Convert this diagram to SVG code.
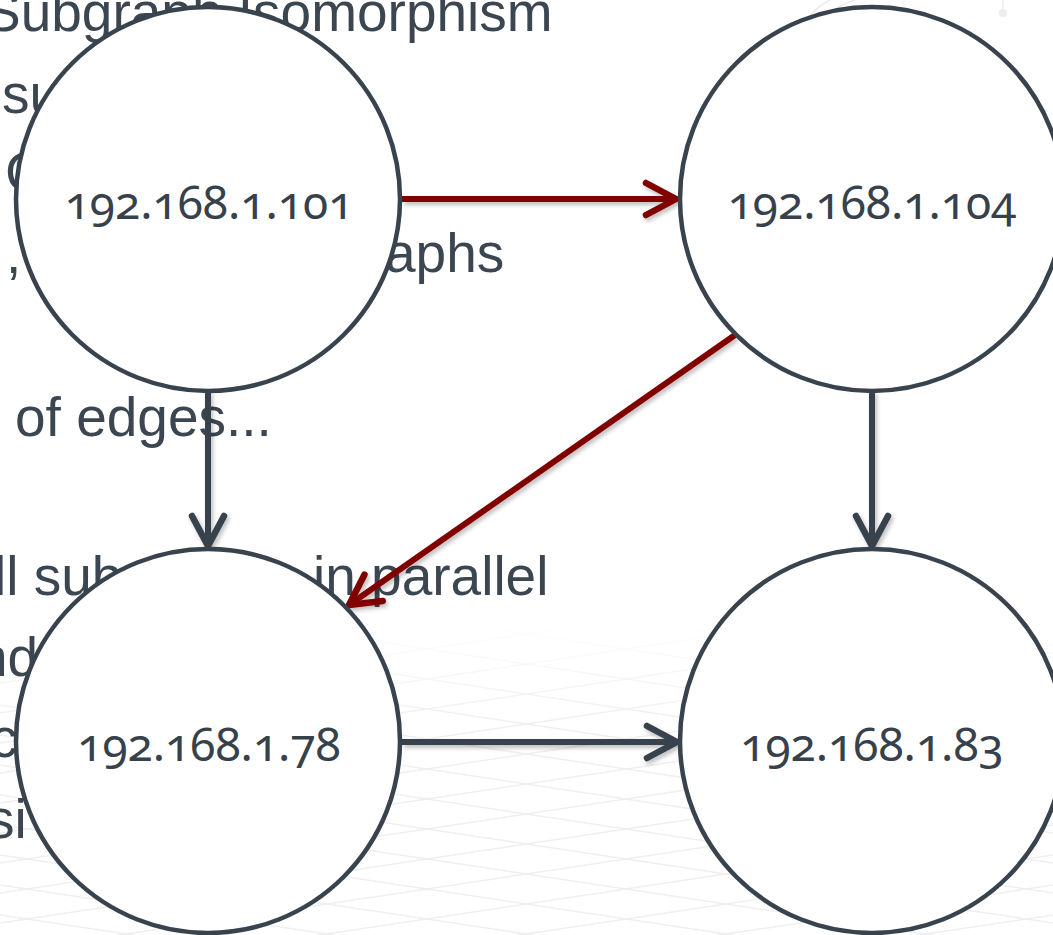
<svg xmlns="http://www.w3.org/2000/svg" width="1053" height="935" viewBox="0 0 1053 935">
  <defs>
    <style>
      .bg-text { font-family: "Liberation Sans", Arial, sans-serif; font-size: 55px; fill: #3b4650; }
      .node-circle { fill: #ffffff; stroke: #38434d; stroke-width: 4.5; }
      .node-label { font-family: "Noto Sans", "Open Sans", sans-serif; font-size: 46px; fill: #37414b; text-anchor: middle; font-variant-numeric: oldstyle-nums; font-feature-settings: "onum" 1; }
      .edge-dark { stroke: #38434d; stroke-width: 6; fill: none; }
      .edge-red { stroke: #800000; stroke-width: 6; fill: none; }
      .grid line { stroke: #efefef; stroke-width: 1.5; }
    </style>
    <marker id="arrow-dark" markerUnits="userSpaceOnUse" markerWidth="50" markerHeight="50" viewBox="-40 -25 50 50" refX="0" refY="0" orient="auto">
      <path d="M -30 -16 L 0 0 L -30 16" fill="none" stroke="#38434d" stroke-width="6.5" stroke-linecap="round" stroke-linejoin="round"/>
    </marker>
    <marker id="arrow-red" markerUnits="userSpaceOnUse" markerWidth="50" markerHeight="50" viewBox="-40 -25 50 50" refX="0" refY="0" orient="auto">
      <path d="M -30 -16 L 0 0 L -30 16" fill="none" stroke="#800000" stroke-width="6.5" stroke-linecap="round" stroke-linejoin="round"/>
    </marker>
    <filter id="shadow" x="-10%" y="-10%" width="120%" height="130%">
      <feDropShadow dx="2" dy="3" stdDeviation="2" flood-color="#000000" flood-opacity="0.25"/>
    </filter>
    <linearGradient id="fade" x1="0" y1="0" x2="0" y2="1">
      <stop offset="0" stop-color="#ffffff" stop-opacity="0"/>
      <stop offset="0.35" stop-color="#ffffff" stop-opacity="1"/>
      <stop offset="1" stop-color="#ffffff" stop-opacity="1"/>
    </linearGradient>
    <mask id="gridmask">
      <rect x="0" y="620" width="1053" height="315" fill="url(#fade)"/>
    </mask>
  </defs>

  <rect width="1053" height="935" fill="#ffffff"/>

  <!-- faint background floor grid -->
  <g class="grid" mask="url(#gridmask)">
    <line x1="-100" y1="600" x2="1153" y2="788"/>
    <line x1="-100" y1="630" x2="1153" y2="818"/>
    <line x1="-100" y1="660" x2="1153" y2="848"/>
    <line x1="-100" y1="690" x2="1153" y2="878"/>
    <line x1="-100" y1="720" x2="1153" y2="908"/>
    <line x1="-100" y1="750" x2="1153" y2="938"/>
    <line x1="-100" y1="780" x2="1153" y2="968"/>
    <line x1="-100" y1="810" x2="1153" y2="998"/>
    <line x1="-100" y1="840" x2="1153" y2="1028"/>
    <line x1="-100" y1="870" x2="1153" y2="1058"/>
    <line x1="-100" y1="900" x2="1153" y2="1088"/>
    <line x1="-100" y1="570" x2="1153" y2="758"/>
    <line x1="-100" y1="540" x2="1153" y2="728"/>
    <line x1="-100" y1="510" x2="1153" y2="698"/>
    <line x1="-100" y1="480" x2="1153" y2="668"/>
    <line x1="-100" y1="788" x2="1153" y2="600"/>
    <line x1="-100" y1="818" x2="1153" y2="630"/>
    <line x1="-100" y1="848" x2="1153" y2="660"/>
    <line x1="-100" y1="878" x2="1153" y2="690"/>
    <line x1="-100" y1="908" x2="1153" y2="720"/>
    <line x1="-100" y1="938" x2="1153" y2="750"/>
    <line x1="-100" y1="968" x2="1153" y2="780"/>
    <line x1="-100" y1="998" x2="1153" y2="810"/>
    <line x1="-100" y1="1028" x2="1153" y2="840"/>
    <line x1="-100" y1="1058" x2="1153" y2="870"/>
    <line x1="-100" y1="1088" x2="1153" y2="900"/>
    <line x1="-100" y1="758" x2="1153" y2="570"/>
    <line x1="-100" y1="728" x2="1153" y2="540"/>
    <line x1="-100" y1="698" x2="1153" y2="510"/>
  </g>

  <!-- faint decoration top right -->
  <g stroke="#ececec" stroke-width="1.5" fill="none">
    <path d="M 800 30 Q 810 10 830 0"/>
    <path d="M 815 28 Q 830 8 855 0"/>
    <line x1="1003" y1="0" x2="1003" y2="12"/>
  </g>
  <circle cx="1003" cy="13" r="4" fill="#ececec"/>

  <!-- slide text partially hidden behind the graph -->
  <g id="slide-text">
    <text class="bg-text" x="-16" y="31">Subgraph Isomorphism</text>
    <text class="bg-text" x="2" y="113">su</text>
    <text class="bg-text" x="5" y="191">C</text>
    <text class="bg-text" x="6" y="273">,</text>
    <text class="bg-text" x="385" y="272">aphs</text>
    <text class="bg-text" x="15" y="436">of edges...</text>
    <text class="bg-text" x="-6" y="595">ll sub</text>
    <text class="bg-text" x="313" y="595">in parallel</text>
    <text class="bg-text" x="-23" y="676">nd</text>
    <text class="bg-text" x="-10" y="757">c</text>
    <text class="bg-text" x="-13" y="838">si</text>
  </g>

  <!-- connectors -->
  <g id="connectors" filter="url(#shadow)">
    <line class="edge-red" x1="402" y1="199" x2="676" y2="199" marker-end="url(#arrow-red)"/>
    <line class="edge-red" x1="735" y1="335" x2="349" y2="605" marker-end="url(#arrow-red)"/>
    <line class="edge-dark" x1="208" y1="391" x2="208" y2="546" marker-end="url(#arrow-dark)"/>
    <line class="edge-dark" x1="872" y1="391" x2="872" y2="546" marker-end="url(#arrow-dark)"/>
    <line class="edge-dark" x1="402" y1="742" x2="677" y2="742" marker-end="url(#arrow-dark)"/>
  </g>

  <!-- nodes -->
  <g id="node-101">
    <circle class="node-circle" cx="208" cy="199" r="192"/>
    <text class="node-label" x="209" y="219">192.168.1.101</text>
  </g>
  <g id="node-104">
    <circle class="node-circle" cx="872" cy="199" r="192"/>
    <text class="node-label" x="872" y="219">192.168.1.104</text>
  </g>
  <g id="node-78">
    <circle class="node-circle" cx="208" cy="741" r="192"/>
    <text class="node-label" x="209" y="761">192.168.1.78</text>
  </g>
  <g id="node-83">
    <circle class="node-circle" cx="872" cy="741" r="192"/>
    <text class="node-label" x="872" y="761">192.168.1.83</text>
  </g>
</svg>
